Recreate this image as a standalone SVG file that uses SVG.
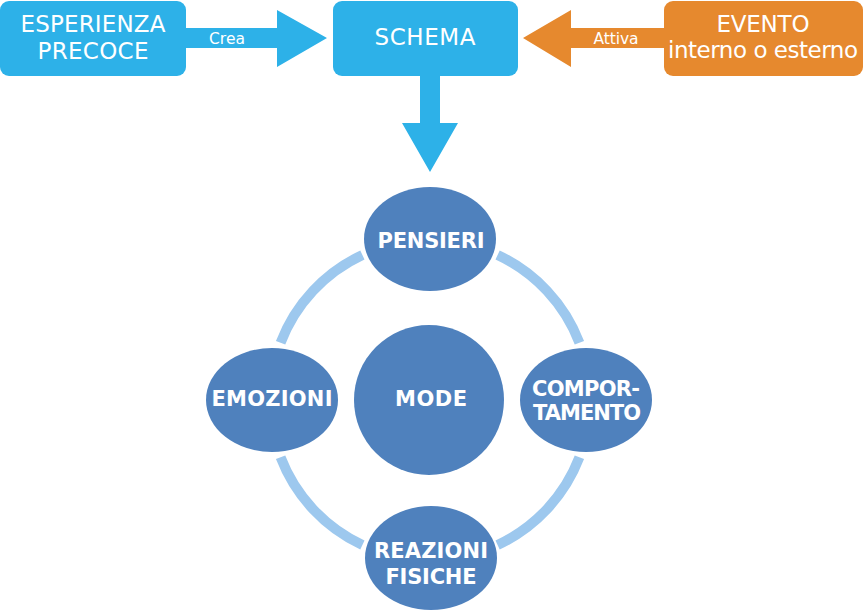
<svg xmlns="http://www.w3.org/2000/svg" width="864" height="610" viewBox="0 0 864 610">
<style>
.box{fill:#2db1e8}
.obox{fill:#e6892e}
.t{font-family:"DejaVu Sans","Liberation Sans",sans-serif;fill:#fff;text-anchor:middle}
.big{font-size:23px}
.small{font-size:15.5px}
.node{fill:#4f81bd}
.lab{font-family:"DejaVu Sans","Liberation Sans",sans-serif;font-weight:bold;font-size:21px;fill:#fff;text-anchor:middle}
.ring{fill:none;stroke:#9dc8ee;stroke-width:10}
</style>
<rect width="864" height="610" fill="#fff"/>
<g id="connectors">
<g id="arrow-crea">
<polygon class="box" points="186,28 277,28 277,10 327,38 277,67 277,48 186,48"/>
<text class="t small" x="227" y="44" textLength="36">Crea</text>
</g>
<g id="arrow-attiva">
<polygon class="obox" points="665,28 571,28 571,10 523,38 571,67 571,48 665,48"/>
<text class="t small" x="616" y="44" textLength="45">Attiva</text>
</g>
<polygon id="arrow-down" class="box" points="420,75 440,75 440,123 458,123 430,172 402,123 420,123"/>
<path class="ring" d="M280.6,342.7 A160,160 0 0 1 362.4,255"/>
<path class="ring" d="M497.6,255 A160,160 0 0 1 579.4,342.7"/>
<path class="ring" d="M579.4,457.3 A160,160 0 0 1 497.6,545"/>
<path class="ring" d="M362.4,545 A160,160 0 0 1 280.6,457.3"/>
</g>
<g id="esperienza">
<rect class="box" x="0" y="1" width="186" height="75" rx="9"/>
<text class="t big" x="93" y="32" textLength="145">ESPERIENZA</text>
<text class="t big" x="93" y="59" textLength="111">PRECOCE</text>
</g>
<g id="schema">
<rect class="box" x="333" y="1" width="185" height="75" rx="9"/>
<text class="t big" x="425" y="45" textLength="101">SCHEMA</text>
</g>
<g id="evento">
<rect class="obox" x="664" y="1" width="199" height="75" rx="9"/>
<text class="t big" x="763" y="32" textLength="93">EVENTO</text>
<text class="t big" x="763" y="58" textLength="190">interno o esterno</text>
</g>
<g id="pensieri">
<ellipse class="node" cx="430" cy="239" rx="66" ry="52"/>
<text class="lab" x="431" y="248" textLength="107">PENSIERI</text>
</g>
<g id="mode">
<circle class="node" cx="429" cy="400" r="75"/>
<text class="lab" x="431" y="406" textLength="72">MODE</text>
</g>
<g id="emozioni">
<ellipse class="node" cx="272" cy="400" rx="66" ry="52"/>
<text class="lab" x="272" y="406" textLength="121">EMOZIONI</text>
</g>
<g id="comportamento">
<ellipse class="node" cx="586" cy="400" rx="66" ry="52"/>
<text class="lab" x="586" y="396" textLength="108">COMPOR-</text>
<text class="lab" x="587" y="420" textLength="108">TAMENTO</text>
</g>
<g id="reazioni">
<ellipse class="node" cx="431" cy="558" rx="66" ry="52"/>
<text class="lab" x="431" y="558" textLength="114">REAZIONI</text>
<text class="lab" x="431" y="584" textLength="91">FISICHE</text>
</g>
</svg>
